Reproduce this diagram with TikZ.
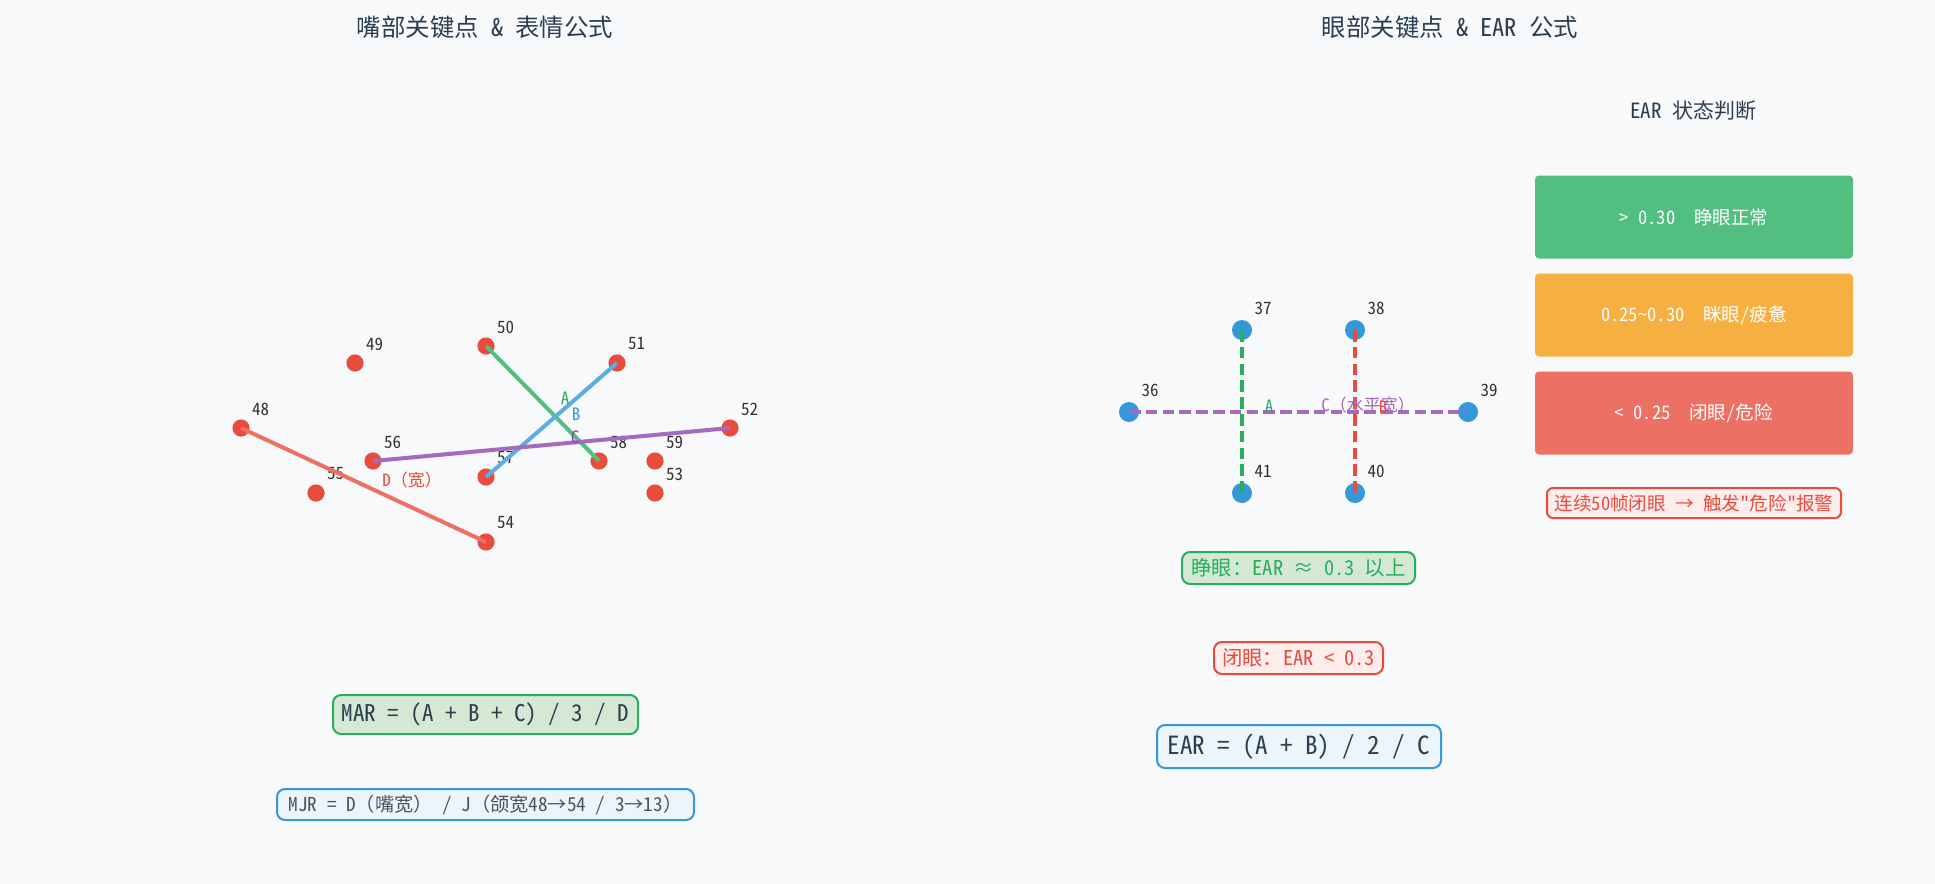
\documentclass[tikz,border=0pt]{standalone}
\usepackage{fontspec}
\setmainfont{Noto Sans CJK SC}
\newfontfamily\hwfont{Noto Sans CJK SC}[RawFeature=+hwid,WordSpace={1,0,0}]
\newcommand\hw[1]{{\hwfont #1}}
\newcommand\fsz[1]{\fontsize{#1}{#1}\selectfont}
\definecolor{bgc}{HTML}{F8F9FA}
\definecolor{titc}{HTML}{2C3E50}
\definecolor{mred}{HTML}{E74C3C}
\definecolor{eblue}{HTML}{3498DB}
\definecolor{lgreen}{HTML}{52BE80}
\definecolor{lblue}{HTML}{5DADE2}
\definecolor{lpurple}{HTML}{A569BD}
\definecolor{lred}{HTML}{EC7063}
\definecolor{tgreen}{HTML}{27AE60}
\definecolor{tpurple}{HTML}{8E44AD}
\definecolor{orangec}{HTML}{F5B041}
\definecolor{pinkfill}{HTML}{FDEDEC}
\definecolor{greenfill}{HTML}{D5E8D4}
\definecolor{bluefill}{HTML}{EBF5FB}
\definecolor{numc}{HTML}{333333}
\definecolor{mjrc}{HTML}{4D5656}
\begin{document}
\begin{tikzpicture}[x=0.5pt,y=-0.5pt,
  title/.style={font=\fsz{12.2pt}, text=titc, inner sep=0pt},
  mdot/.style={circle, fill=mred, minimum size=8.6pt, inner sep=0pt},
  edot/.style={circle, fill=eblue, minimum size=10pt, inner sep=0pt},
  mnum/.style={font=\hwfont\fsz{8.5pt}, text=numc, inner sep=0pt},
  enum/.style={font=\hwfont\fsz{8.5pt}, text=numc, inner sep=0pt},
  mline/.style={line width=2pt},
  eline/.style={line width=2pt, dash pattern=on 5.8pt off 2.6pt},
  lab/.style={font=\fsz{8.5pt}, inner sep=0pt},
  elab/.style={font=\fsz{8.5pt}, inner sep=0pt},
  statebox/.style={rounded corners=2pt, inner sep=0pt, minimum width=159pt, minimum height=41.5pt, text=white, font=\fsz{9.3pt}},
  fbox/.style={rounded corners=4pt, line width=1pt, inner sep=0pt},
]
\path[fill=bgc,use as bounding box] (0,0) rectangle (1935,884);

% titles
\node[title] (t1) at (485,27) {嘴部关键点\hw{ \& }表情公式};
\node[title] (t2) at (1450,27) {眼部关键点\hw{ \& EAR }公式};

% mouth dots
\foreach \n/\x/\y in {48/241/428, 49/355/363, 50/486/346, 51/617/363, 52/730/428, 53/655/493, 54/486/542, 55/316/493, 56/373/461, 57/486/477, 58/599/461, 59/655/461}{
  \node[mdot] (m\n) at (\x,\y) {};
  \node[mnum] (mn\n) at (\x+19.5,\y-19) {\n};
}
\draw[mline, lgreen] (m50.center) -- (m58.center);
\draw[mline, lblue] (m51.center) -- (m57.center);
\draw[mline, lpurple] (m56.center) -- (m52.center);
\draw[mline, lred] (m48.center) -- (m54.center);
\node[lab, text=tgreen] (la) at (565,398) {\hw{A}};
\node[lab, text=eblue] (lb) at (576,414) {\hw{B}};
\node[lab, text=tpurple] (lc) at (575,437) {\hw{C}};
\node[lab, text=mred] (ld) at (412,480) {\hw{D}（宽）};

% mouth formulas
\node[fbox, draw=tgreen, fill=greenfill, minimum width=152.5pt, minimum height=19.5pt, text=titc, font=\fsz{11.5pt}] (mar) at (485.5,714.5) {\hw{MAR = (A + B + C) / 3 / D}};
\node[fbox, draw=eblue, fill=bluefill, minimum width=208.5pt, minimum height=15.5pt, text=mjrc, font=\fsz{9.6pt}] (mjr) at (485.5,804.5) {\hw{MJR = D}（嘴宽）\hw{ / J}（颌宽\hw{48}→\hw{54 / 3}→\hw{13}）};

% eye dots
\foreach \n/\x/\y in {36/1129/412, 37/1242/330, 38/1355/330, 39/1468/412, 40/1355/493, 41/1242/493}{
  \node[edot] (e\n) at (\x,\y) {};
  \node[enum] (en\n) at (\x+21,\y-22) {\n};
}
\draw[eline, tgreen] (e37.center) -- (e41.center);
\draw[eline, mred] (e38.center) -- (e40.center);
\draw[eline, lpurple] (e36.center) -- (e39.center);
\node[elab, text=tgreen] (ea) at (1269,406) {\hw{A}};
\node[elab, text=lpurple] (ec) at (1368,405) {\hw{C}（水平宽）};
\node[elab, text=mred] (eb) at (1383,407) {\hw{B}};

% eye formulas
\node[fbox, draw=tgreen, fill=greenfill, minimum width=116.5pt, minimum height=16pt, text=tgreen, font=\fsz{10.2pt}] (open) at (1298.5,568) {睁眼：\hw{EAR }≈\hw{ 0.3 }以上};
\node[fbox, draw=mred, fill=pinkfill, minimum width=84.5pt, minimum height=16pt, text=mred, font=\fsz{10.2pt}] (closed) at (1298.5,658) {闭眼：\hw{EAR < 0.3}};
\node[fbox, draw=eblue, fill=bluefill, minimum width=142pt, minimum height=21.5pt, text=titc, font=\fsz{12.5pt}] (ear) at (1299,746.5) {\hw{EAR = (A + B) / 2 / C}};

% state panel
\node[inner sep=0pt, text=titc, font=\fsz{10.5pt}] (st) at (1693,111) {\hw{EAR }状态判断};
\node[statebox, fill=lgreen] (s1) at (1694,217) {\hw{> 0.30}\hspace{1em}睁眼正常};
\node[statebox, fill=orangec] (s2) at (1694,315) {\hw{0.25\symbol{"7E}0.30}\hspace{1em}眯眼\hw{/}疲惫};
\node[statebox, fill=lred] (s3) at (1694,413) {\hw{< 0.25}\hspace{1em}闭眼\hw{/}危险};
\node[rounded corners=3pt, line width=1pt, draw=mred, fill=pinkfill, inner sep=0pt, minimum width=147pt, minimum height=15pt, text=mred, font=\fsz{9.3pt}] (alert) at (1694,503) {连续\hw{50}帧闭眼\hw{ }→\hw{ }触发\hw{"}危险\hw{"}报警};
\end{tikzpicture}
\end{document}
